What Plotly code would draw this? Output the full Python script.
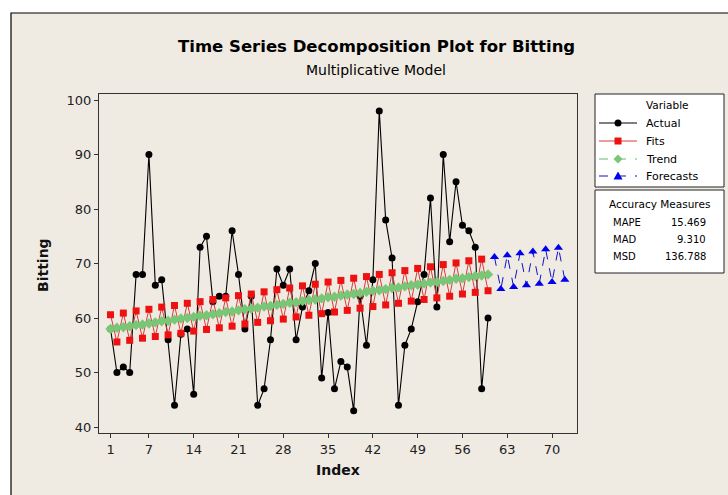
import plotly.graph_objects as go

# ---------------- data ----------------
index_actual = list(range(1, 61))
actual = [58, 50, 51, 50, 68, 68, 90, 66, 67, 56,
          44, 57, 58, 46, 73, 75, 63, 64, 64, 76,
          68, 58, 64, 44, 47, 56, 69, 66, 69, 56,
          62, 65, 70, 49, 61, 47, 52, 51, 43, 64,
          55, 67, 98, 78, 71, 44, 55, 58, 63, 68,
          82, 62, 90, 74, 85, 77, 76, 73, 47, 60]
fits = [60.6, 55.6, 60.9, 55.9, 61.3, 56.3, 61.6, 56.6, 62.0, 56.9,
        62.3, 57.2, 62.7, 57.6, 63.0, 57.9, 63.4, 58.2, 63.7, 58.5,
        64.1, 58.9, 64.4, 59.2, 64.8, 59.5, 65.2, 59.8, 65.5, 60.2,
        65.9, 60.5, 66.2, 60.8, 66.6, 61.1, 66.9, 61.4, 67.3, 61.8,
        67.6, 62.1, 68.0, 62.4, 68.3, 62.7, 68.7, 63.1, 69.1, 63.4,
        69.4, 63.7, 69.8, 64.0, 70.1, 64.4, 70.5, 64.7, 70.8, 65.0]
trend = [58.0, 58.2, 58.3, 58.5, 58.7, 58.8, 59.0, 59.2, 59.4, 59.5,
         59.7, 59.9, 60.0, 60.2, 60.4, 60.5, 60.7, 60.9, 61.1, 61.2,
         61.4, 61.6, 61.7, 61.9, 62.1, 62.2, 62.4, 62.6, 62.8, 62.9,
         63.1, 63.3, 63.4, 63.6, 63.8, 63.9, 64.1, 64.3, 64.4, 64.6,
         64.8, 65.0, 65.1, 65.3, 65.5, 65.6, 65.8, 66.0, 66.1, 66.3,
         66.5, 66.6, 66.8, 67.0, 67.2, 67.3, 67.5, 67.7, 67.8, 68.0]
index_forecast = list(range(61, 73))
forecasts = [71.2, 65.3, 71.5, 65.7, 71.9, 66.0, 72.2, 66.3, 72.6, 66.6, 72.9, 67.0]

series_names = ["Actual", "Fits", "Trend", "Forecasts"]
x_ticks = [1, 7, 14, 21, 28, 35, 42, 49, 56, 63, 70]
y_ticks = [40, 50, 60, 70, 80, 90, 100]

accuracy_names = ["MAPE", "MAD", "MSD"]
accuracy_values = ["15.469", "9.310", "136.788"]

title_text = "Time Series Decomposition Plot for Bitting"
subtitle_text = "Multiplicative Model"

# ---------------- layout helpers ----------------
W, H = 728, 495
PL, PR, PT, PB = 99, 577, 94, 433  # plot area in pixels


def px(x):
    return (x - PL) / (PR - PL)


def py(y):
    return (PB - y) / (PB - PT)


FONT = "DejaVu Sans"
BEIGE = "#EFEBE2"

styles = {
    "Actual": dict(line=dict(color="black", width=1.1),
                   marker=dict(symbol="circle", size=7, color="black")),
    "Fits": dict(line=dict(color="#D83A3A", width=1),
                 marker=dict(symbol="square", size=7, color="#EE1111")),
    "Trend": dict(line=dict(color="#66BB66", width=1, dash="dash"),
                  marker=dict(symbol="diamond", size=8, color="#77C777")),
    "Forecasts": dict(line=dict(color="#1111CC", width=1, dash="dash"),
                      marker=dict(symbol="triangle-up", size=8, color="#0000EE")),
}

fig = go.Figure()
for name, xs, ys in [("Actual", index_actual, actual), ("Fits", index_actual, fits),
                     ("Trend", index_actual, trend), ("Forecasts", index_forecast, forecasts)]:
    fig.add_trace(go.Scatter(x=xs, y=ys, name=name, mode="lines+markers",
                             showlegend=False, **styles[name]))

shapes = [
    dict(type="rect", xref="paper", yref="paper", layer="below",
         x0=px(11), x1=px(760), y0=py(520), y1=py(13),
         fillcolor=BEIGE, line=dict(color="black", width=1.2)),
    dict(type="rect", xref="paper", yref="paper", layer="below",
         x0=px(595), x1=px(724), y0=py(187), y1=py(94),
         fillcolor="white", line=dict(color="#222", width=1)),
    dict(type="rect", xref="paper", yref="paper", layer="below",
         x0=px(595), x1=px(724), y0=py(273), y1=py(190),
         fillcolor="white", line=dict(color="#222", width=1)),
]

annotations = [
    dict(text="<b>" + title_text + "</b>", x=px(376), y=py(47), xref="paper", yref="paper",
         showarrow=False, font=dict(family=FONT, size=16.5, color="black"),
         xanchor="center", yanchor="middle"),
    dict(text=subtitle_text, x=px(376), y=py(70), xref="paper", yref="paper",
         showarrow=False, font=dict(family=FONT, size=14, color="black"),
         xanchor="center", yanchor="middle"),
    dict(text="<b>Index</b>", x=px(338), y=py(470), xref="paper", yref="paper",
         showarrow=False, font=dict(family=FONT, size=14, color="#111"),
         xanchor="center", yanchor="middle"),
    dict(text="<b>Bitting</b>", x=px(43), y=py(265), xref="paper", yref="paper",
         showarrow=False, textangle=-90, font=dict(family=FONT, size=14, color="#111"),
         xanchor="center", yanchor="middle"),
    dict(text="Variable", x=px(667), y=py(105), xref="paper", yref="paper",
         showarrow=False, font=dict(family=FONT, size=10.5, color="black"),
         xanchor="center", yanchor="middle"),
    dict(text="Accuracy Measures", x=px(659.5), y=py(204), xref="paper", yref="paper",
         showarrow=False, font=dict(family=FONT, size=10.5, color="black"),
         xanchor="center", yanchor="middle"),
]

# hand-drawn legend entries (Minitab style box)
legend_y = [123, 141, 159, 176]
LX0, LX1, LXM, LXT = 599, 637, 618, 644
for name, yy in zip(series_names, legend_y):
    st = styles[name]
    lc = st["line"]["color"]
    dash = st["line"].get("dash", "solid")
    shapes.append(dict(type="line", xref="paper", yref="paper",
                       x0=px(LX0), x1=px(LX1), y0=py(yy), y1=py(yy),
                       line=dict(color=lc, width=1, dash=dash)))
    mc = st["marker"]["color"]
    sym = st["marker"]["symbol"]
    if sym == "circle":
        shapes.append(dict(type="circle", xref="paper", yref="paper",
                           x0=px(LXM - 3.5), x1=px(LXM + 3.5), y0=py(yy + 3.5), y1=py(yy - 3.5),
                           fillcolor=mc, line=dict(color=mc, width=0)))
    elif sym == "square":
        shapes.append(dict(type="rect", xref="paper", yref="paper",
                           x0=px(LXM - 3.5), x1=px(LXM + 3.5), y0=py(yy + 3.5), y1=py(yy - 3.5),
                           fillcolor=mc, line=dict(color=mc, width=0)))
    elif sym == "diamond":
        p = "M {a},{b} L {c},{d} L {e},{f} L {g},{h} Z".format(
            a=px(LXM), b=py(yy - 4.5), c=px(LXM + 4.5), d=py(yy),
            e=px(LXM), f=py(yy + 4.5), g=px(LXM - 4.5), h=py(yy))
        shapes.append(dict(type="path", xref="paper", yref="paper", path=p,
                           fillcolor=mc, line=dict(color=mc, width=0)))
    else:
        p = "M {a},{b} L {c},{d} L {e},{f} Z".format(
            a=px(LXM - 4.5), b=py(yy + 3.5), c=px(LXM + 4.5), d=py(yy + 3.5),
            e=px(LXM), f=py(yy - 4.5))
        shapes.append(dict(type="path", xref="paper", yref="paper", path=p,
                           fillcolor=mc, line=dict(color=mc, width=0)))
    annotations.append(dict(text=name, x=px(LXT), y=py(yy), xref="paper", yref="paper",
                            showarrow=False, font=dict(family=FONT, size=11, color="black"),
                            xanchor="left", yanchor="middle"))

for i, (n, v) in enumerate(zip(accuracy_names, accuracy_values)):
    yy = 222 + i * 17
    annotations.append(dict(text=n, x=px(611), y=py(yy), xref="paper", yref="paper",
                            showarrow=False, font=dict(family=FONT, size=10, color="black"),
                            xanchor="left", yanchor="middle"))
    annotations.append(dict(text=v, x=px(708), y=py(yy), xref="paper", yref="paper",
                            showarrow=False, font=dict(family=FONT, size=10, color="black"),
                            xanchor="right", yanchor="middle"))

fig.update_layout(
    width=W, height=H, autosize=False,
    margin=dict(l=PL, r=W - PR, t=PT, b=H - PB, pad=0),
    paper_bgcolor="white", plot_bgcolor="white",
    font=dict(family=FONT, size=13, color="#222"),
    shapes=shapes, annotations=annotations,
    showlegend=False,
    xaxis=dict(range=[-0.8, 73.9], tickmode="array", tickvals=x_ticks,
               ticks="outside", ticklen=4, tickcolor="#333",
               showline=True, linecolor="#333", linewidth=1, mirror=True,
               showgrid=False, zeroline=False,
               tickfont=dict(family=FONT, size=13, color="#222")),
    yaxis=dict(range=[38.9, 101.1], tickmode="array", tickvals=y_ticks,
               ticks="outside", ticklen=4, tickcolor="#333",
               showline=True, linecolor="#333", linewidth=1, mirror=True,
               showgrid=False, zeroline=False,
               tickfont=dict(family=FONT, size=13, color="#222")),
)

fig.write_html("out.html", config={"displayModeBar": False},
               post_script="document.body.style.margin='0px';")
